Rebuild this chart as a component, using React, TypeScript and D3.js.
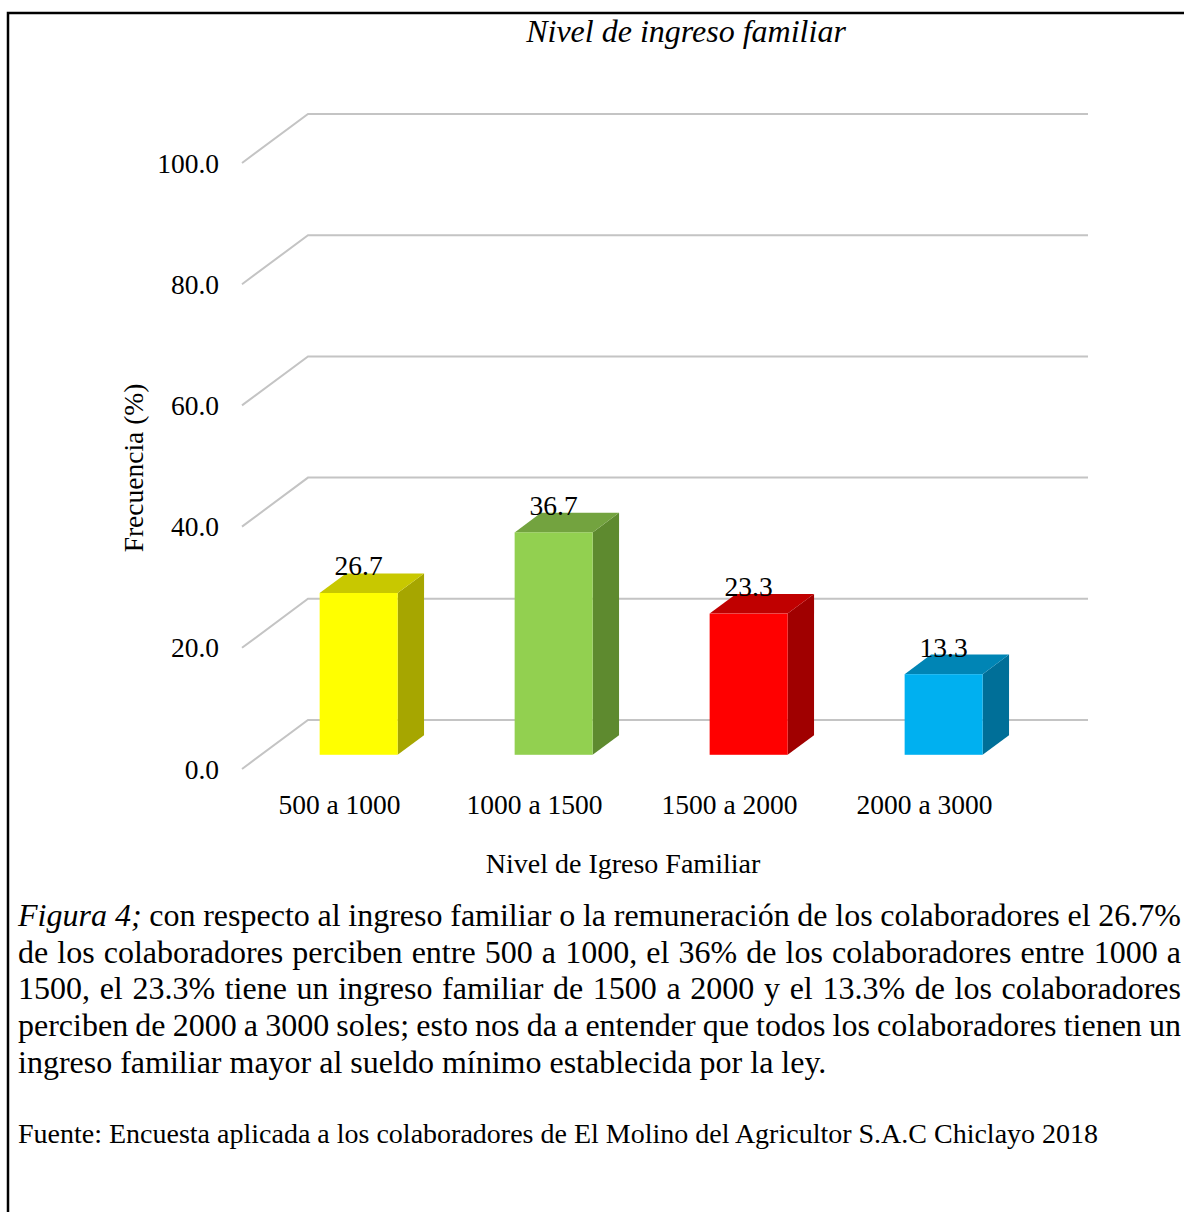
import React, { useMemo } from 'react';
import * as d3 from 'd3';

const categories = ['500 a 1000', '1000 a 1500', '1500 a 2000', '2000 a 3000'];
const values = [26.7, 36.7, 23.3, 13.3];
const tickValues = [0, 20, 40, 60, 80, 100];
const faceColors = ['#FFFF00', '#92D050', '#FF0000', '#00B0F0'];
const topColors = ['#C8C800', '#73A33F', '#C00000', '#0085B5'];
const sideColors = ['#A6A600', '#5E8A2F', '#A00000', '#006F98'];

const captionLines = [
  'con respecto al ingreso familiar o la remuneración de los colaboradores el 26.7%',
  'de los colaboradores perciben entre 500 a 1000, el 36% de los colaboradores entre 1000 a',
  '1500, el 23.3% tiene un ingreso familiar de 1500 a 2000 y el 13.3% de los colaboradores',
  'perciben de 2000 a 3000 soles; esto nos da a entender que todos los colaboradores tienen un',
  'ingreso familiar mayor al sueldo mínimo establecida por la ley.',
];
const figLabel = 'Figura 4;';
const sourceText = 'Fuente: Encuesta aplicada a los colaboradores de El Molino del Agricultor S.A.C Chiclayo 2018';

const W = 1184;
const H = 1212;
const FONT = "'Liberation Serif', 'Times New Roman', serif";

// 3D floor depth offset
const DX = 66;
const DY = -49;
const barD0 = 0.29;
const barD1 = 0.69;

function measurer(size: number, italic = false) {
  const ctx = document.createElement('canvas').getContext('2d')!;
  ctx.font = `${italic ? 'italic ' : ''}${size}px 'Liberation Serif'`;
  return (s: string) => ctx.measureText(s).width;
}

export default function App() {
  const y = d3.scaleLinear().domain([0, 100]).range([769, 163]);
  const x = d3.scaleBand<string>().domain(categories).range([242, 1022]);
  const barW = x.bandwidth() * 0.4;
  const fs = 27.5;

  const capSize = 32;
  const capLeft = 18;
  const capRight = 1181;
  const capTop = 926;
  const lineH = 36.7;

  const captionWords = useMemo(() => {
    const m = measurer(capSize);
    const mi = measurer(capSize, true);
    const out: { text: string; x: number; y: number; italic: boolean }[] = [];
    captionLines.forEach((line, li) => {
      const words = line.split(' ').map(w => ({ text: w, italic: false, w: m(w) }));
      if (li === 0) words.unshift({ text: figLabel, italic: true, w: mi(figLabel) });
      const total = words.reduce((a, w) => a + w.w, 0);
      const isLast = li === captionLines.length - 1;
      const gap = isLast ? m(' ') : (capRight - capLeft - total) / (words.length - 1);
      let cx = capLeft;
      words.forEach(w => {
        out.push({ text: w.text, x: cx, y: capTop + li * lineH, italic: w.italic });
        cx += w.w + gap;
      });
    });
    return out;
  }, []);

  return (
    <svg width={W} height={H} viewBox={`0 0 ${W} ${H}`}
      style={{ position: 'absolute', left: 0, top: 0, background: '#fff', fontFamily: FONT }}>
      <rect x={8} y={13} width={W + 20} height={H + 20} fill="#fff" stroke="#000" strokeWidth={2.5} />

      <text x={686} y={42} textAnchor="middle" fontStyle="italic" fontSize={32}>Nivel de ingreso familiar</text>

      {/* gridlines */}
      {tickValues.map(t => (
        <g key={t}>
          <polyline
            points={`242,${y(t)} ${242 + DX},${y(t) + DY} 1088,${y(t) + DY}`}
            fill="none" stroke="#C4C4C4" strokeWidth={2} />
          <text x={219} y={y(t)} dy="0.35em" textAnchor="end" fontSize={fs}>{t.toFixed(1)}</text>
        </g>
      ))}

      {/* bars */}
      {categories.map((c, i) => {
        const cx = x(c)! + x.bandwidth() / 2;
        const fx0 = cx + DX * barD0 - barW / 2;
        const fx1 = fx0 + barW;
        const fyb = y(0) + DY * barD0;
        const fyt = y(values[i]) + DY * barD0;
        const ddx = DX * (barD1 - barD0);
        const ddy = DY * (barD1 - barD0);
        return (
          <g key={c}>
            <polygon points={`${fx1},${fyb} ${fx1 + ddx},${fyb + ddy} ${fx1 + ddx},${fyt + ddy} ${fx1},${fyt}`} fill={sideColors[i]} />
            <polygon points={`${fx0},${fyt} ${fx0 + ddx},${fyt + ddy} ${fx1 + ddx},${fyt + ddy} ${fx1},${fyt}`} fill={topColors[i]} />
            <rect x={fx0} y={fyt} width={barW} height={fyb - fyt} fill={faceColors[i]} />
            <text x={(fx0 + fx1) / 2} y={fyt + ddy + 2} textAnchor="middle" fontSize={fs}>{values[i].toFixed(1)}</text>
          </g>
        );
      })}

      {/* category labels */}
      {categories.map(c => (
        <text key={c} x={x(c)! + x.bandwidth() / 2} y={804} dy="0.35em" textAnchor="middle" fontSize={fs}>{c}</text>
      ))}

      <text transform="translate(133,468) rotate(-90)" dy="0.35em" textAnchor="middle" fontSize={fs}>Frecuencia (%)</text>
      <text x={623} y={863} dy="0.35em" textAnchor="middle" fontSize={28}>Nivel de Igreso Familiar</text>

      {/* caption */}
      {captionWords.map((w, i) => (
        <text key={i} x={w.x} y={w.y} fontSize={capSize} fontStyle={w.italic ? 'italic' : 'normal'}>{w.text}</text>
      ))}

      <text x={18} y={1143} fontSize={28}>{sourceText}</text>
    </svg>
  );
}
